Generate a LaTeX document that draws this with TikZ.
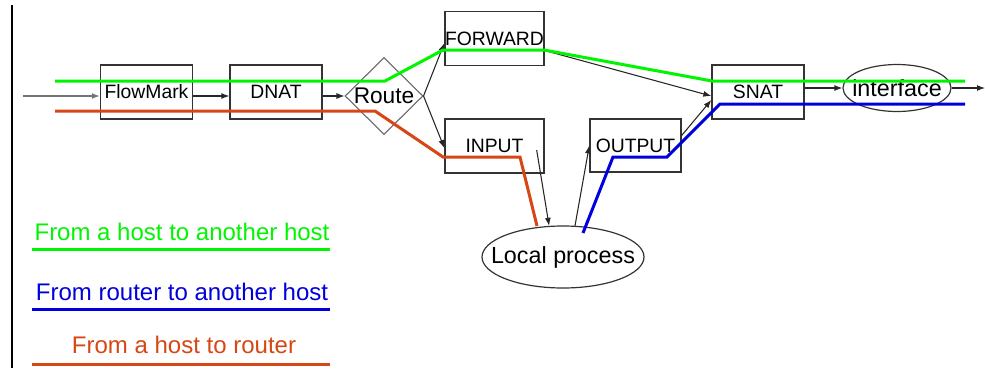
\documentclass[tikz,border=0pt]{standalone}
\usepackage{fontspec}
\setmainfont{Liberation Sans}
\usepackage{xcolor}
\usetikzlibrary{arrows.meta,shapes.geometric}

\definecolor{hostgreen}{RGB}{0,245,0}
\definecolor{routerblue}{RGB}{0,0,220}
\definecolor{hostorange}{RGB}{215,70,20}

\begin{document}
\begin{tikzpicture}[
	x=0.75pt, y=-0.75pt,
	box/.style={
		draw=black!80,
		line width=1pt,
		inner sep=0pt,
		minimum width=69pt,
		minimum height=40.5pt,
		font=\fontsize{14.5}{17}\selectfont
	},
	wide/.style={
		box,
		minimum width=74.25pt
	},
	oval/.style={
		ellipse,
		draw=black!80,
		line width=0.9pt,
		inner ysep=0pt,
		font=\fontsize{17.5}{20}\selectfont
	},
	arrow/.style={
		-{Latex[length=6pt,width=4.5pt]},
		line width=0.8pt,
		black!85
	},
	flow/.style={
		line width=2.25pt
	},
	legend/.style={
		font=\fontsize{18}{21}\selectfont
	}
	]
	\useasboundingbox (0,0) rectangle (985,368);
	
	% Left border
	\draw[line width=1.5pt] (12,5) -- (12,368);
	
	% Prerouting chain
	\node[box] (flowmark) at (146.5,92) {FlowMark};
	\node[box] (dnat) at (276,92) {DNAT};
	\node[diamond, draw=black!60, line width=0.8pt, inner sep=0pt,
		minimum width=58.5pt, minimum height=57.75pt,
		font=\fontsize{17}{20}\selectfont] (route) at (384,96) {Route};
	
	% Forward and input branches
	\node[wide] (forward) at (494.5,38.5) {FORWARD};
	\node[wide] (input) at (494.5,146) {INPUT};
	\node[oval, inner xsep=-12pt, minimum width=121.5pt, minimum height=46.5pt]
		(local) at (563,257) {Local process};
	\node[box, minimum width=68.25pt, minimum height=39.75pt] (output) at (635.5,145.5)
	{OUTPUT};
	
	% Postrouting
	\node[box] (snat) at (758,92) {SNAT};
	\node[oval, inner xsep=-5.5pt, minimum width=81pt, minimum height=35.25pt]
		(iface) at (897,88) {interface};
	
	\coordinate (packet_in) at (23,96);
	\coordinate (packet_out) at (985,88);
	
	% Arrows
	\draw[arrow, black!55, line width=1.5pt] (packet_in) -- (packet_in -| flowmark.west);
	\draw[arrow] (flowmark.east |- route.west) -- (dnat.west |- route.west);
	\draw[arrow] (dnat.east |- route.west) -- (route.west);
	\draw[arrow] (route.east) -- ([yshift=-3.5pt]forward.west);
	\draw[arrow] (route.east) -- ([yshift=-1.5pt]input.west);
	\draw[arrow] ([yshift=-9pt]forward.east) -- ([yshift=-3pt]snat.west);
	\draw[arrow] ([xshift=-6pt,yshift=-3pt]input.east) -- (local.114);
	\draw[arrow] (local.69) -- (output.west);
	\draw[arrow] ([yshift=7.5pt]output.east) -- ([yshift=-6pt]snat.west);
	\draw[arrow] (snat.east |- iface.west) -- (iface.west);
	\draw[arrow] (iface.east) -- (packet_out);
	
	% Packet paths
	\draw[flow, hostgreen] (55,81) -- (385,81) -- (443,50) -- (544,50)
		-- (712,81) -- (965,81);
	\draw[flow, hostorange] (55,111) -- (375,111) -- (443,157) -- (520,157)
		-- (537,226);
	\draw[flow, routerblue] (583,233) -- (613,157) -- (667,157)
		-- (720,104) -- (965,104);
	
	% Legend
	\node[legend, text=hostgreen] (leg_green) at (182,232) {From a host to another host};
	\draw[flow, hostgreen] (32,249) -- (330,249);
	\node[legend, text=routerblue] (leg_blue) at (182,292) {From router to another host};
	\draw[flow, routerblue] (32,309) -- (330,309);
	\node[legend, text=hostorange] (leg_orange) at (184,345) {From a host to router};
	\draw[flow, hostorange] (32,364) -- (330,364);
	
\end{tikzpicture}
\end{document}
